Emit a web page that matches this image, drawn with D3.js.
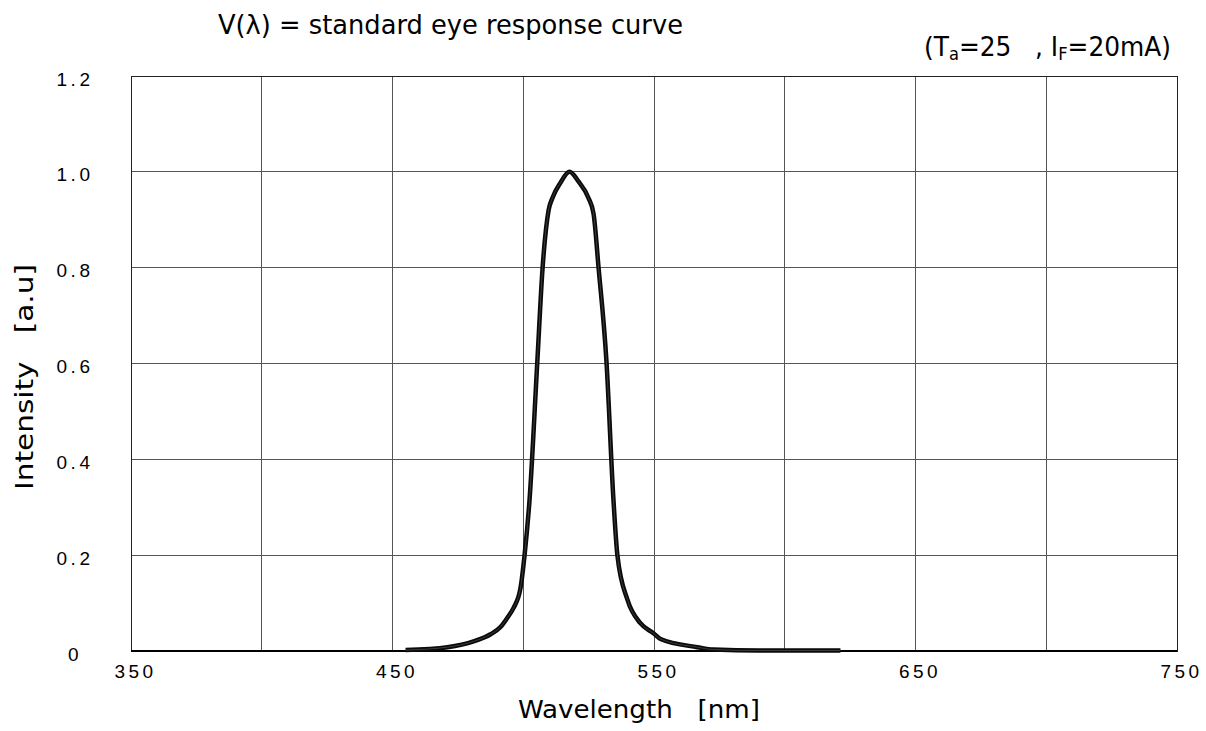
<!DOCTYPE html>
<html>
<head>
<meta charset="utf-8">
<script src="https://cdn.jsdelivr.net/npm/d3@7"></script>
<style>
  html, body { margin: 0; padding: 0; background: #fff; }
  svg { display: block; }
</style>
</head>
<body>
<svg id="chart" width="1206" height="731"></svg>
<script>
// ---- data ----
const wavelength = [455, 471, 481, 487.5, 491.3, 494, 496.3, 498.9, 500.5, 502.4, 505.4, 507.4, 509.7, 511.2, 514.2, 517.7,
                    521.1, 524.9, 526.9, 528.8, 531.8, 534.5, 536.0, 539.9, 544.8, 549.8, 552.5, 566.6, 572.8, 590, 621.3];
const intensity  = [0.002, 0.008, 0.02, 0.035, 0.05, 0.07, 0.09, 0.13, 0.2, 0.315, 0.606, 0.8, 0.92, 0.946, 0.977, 1.0,
                    0.98, 0.946, 0.912, 0.8, 0.606, 0.315, 0.2, 0.106, 0.058, 0.037, 0.025, 0.008, 0.003, 0.001, 0.001];
const xTickValues = [350, 450, 550, 650, 750];
const xGridValues = [350, 400, 450, 500, 550, 600, 650, 700, 750];
const yTickValues = [0, 0.2, 0.4, 0.6, 0.8, 1.0, 1.2];
const yTickLabels = ["0", "0.2", "0.4", "0.6", "0.8", "1.0", "1.2"];
const titleText = "V(\u03BB) = standard eye response curve";
const xTitle = "Wavelength   [nm]";
const yTitle = "Intensity   [a.u]";

// ---- layout ----
const svg = d3.select("#chart");
const pLeft = 131, pRight = 1177, pTop = 76, pBottom = 651;
const x = d3.scaleLinear().domain([350, 750]).range([pLeft, pRight]);
const y = d3.scaleLinear().domain([0, 1.2]).range([pBottom, pTop]);
const titleFont = "'DejaVu Sans Condensed', 'DejaVu Sans', Tahoma, sans-serif";
const tickFont = "'Liberation Sans', Arial, sans-serif";

svg.append("rect").attr("width", 1206).attr("height", 731).attr("fill", "#fff");

// grid
svg.append("g").selectAll("line").data(xGridValues).join("line")
  .attr("x1", d => x(d)).attr("x2", d => x(d))
  .attr("y1", pTop).attr("y2", pBottom)
  .attr("stroke", "#555").attr("stroke-width", 1)
  .attr("shape-rendering", "crispEdges");
svg.append("g").selectAll("line").data(yTickValues).join("line")
  .attr("x1", pLeft).attr("x2", pRight)
  .attr("y1", d => y(d)).attr("y2", d => y(d))
  .attr("stroke", "#555").attr("stroke-width", 1)
  .attr("shape-rendering", "crispEdges");

// frame
svg.append("rect").attr("x", pLeft).attr("y", pTop)
  .attr("width", pRight - pLeft).attr("height", pBottom - pTop)
  .attr("fill", "none").attr("stroke", "#222").attr("stroke-width", 1)
  .attr("shape-rendering", "crispEdges");
svg.append("line").attr("x1", pLeft).attr("x2", pRight).attr("y1", pBottom).attr("y2", pBottom)
  .attr("stroke", "#000").attr("stroke-width", 2);

// curve
const pts = wavelength.map((w, i) => [w, intensity[i]]);
const line = d3.line().x(d => x(d[0])).y(d => y(d[1])).curve(d3.curveMonotoneX);
svg.append("path").datum(pts).attr("d", line)
  .attr("fill", "none").attr("stroke", "#0a0a0a").attr("stroke-width", 4.5)
  .attr("stroke-linejoin", "round");
svg.append("path").datum(pts).attr("d", line)
  .attr("fill", "none").attr("stroke", "#3c3c3c").attr("stroke-width", 1);

// x tick labels
const xAxis = d3.axisBottom(x).tickValues(xTickValues).tickSize(0).tickPadding(13.5).tickFormat(d3.format("d"));
const gx = svg.append("g").attr("transform", `translate(0,${pBottom})`).call(xAxis);
gx.select(".domain").remove();
gx.selectAll("text")
  .attr("font-family", tickFont).attr("font-size", 19).attr("fill", "#000")
  .style("letter-spacing", "3.5px").attr("dx", "4");

// y tick labels
svg.append("g").selectAll("text").data(yTickValues).join("text")
  .attr("x", 75).attr("y", d => y(d) + 3)
  .attr("text-anchor", "middle").attr("dominant-baseline", "central")
  .attr("font-family", tickFont).attr("font-size", 19).attr("fill", "#000")
  .style("letter-spacing", "3.5px")
  .text((d, i) => yTickLabels[i]);

// title
svg.append("text").attr("x", 218).attr("y", 34)
  .attr("font-family", titleFont).attr("font-size", 27).attr("fill", "#000")
  .attr("textLength", 465).attr("lengthAdjust", "spacingAndGlyphs")
  .text(titleText);

// conditions subtitle
const sub = svg.append("text").attr("x", 924).attr("y", 56)
  .attr("font-family", titleFont).attr("font-size", 26).attr("fill", "#000")
  .style("white-space", "pre")
  .attr("textLength", 247).attr("lengthAdjust", "spacingAndGlyphs");
sub.append("tspan").text("(T");
sub.append("tspan").attr("font-size", 17).attr("dy", 4).text("a");
sub.append("tspan").attr("dy", -4).text("=25   , I");
sub.append("tspan").attr("font-size", 17).attr("dy", 4).text("F");
sub.append("tspan").attr("dy", -4).text("=20mA)");

// axis titles
svg.append("text").attr("x", 639).attr("y", 718)
  .attr("text-anchor", "middle")
  .attr("font-family", titleFont).attr("font-size", 25).attr("fill", "#000")
  .style("white-space", "pre")
  .attr("textLength", 242).attr("lengthAdjust", "spacingAndGlyphs")
  .text(xTitle);
svg.append("text").attr("transform", "translate(33,377) rotate(-90)")
  .attr("text-anchor", "middle")
  .attr("font-family", titleFont).attr("font-size", 25).attr("fill", "#000")
  .style("white-space", "pre")
  .attr("textLength", 226).attr("lengthAdjust", "spacingAndGlyphs")
  .text(yTitle);
</script>
</body>
</html>
